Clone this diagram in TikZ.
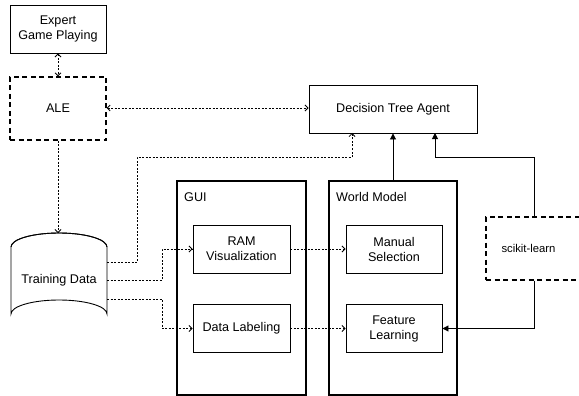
\documentclass[tikz,border=0pt]{standalone}
\usepackage{fontspec}
\setmainfont{Liberation Sans}
\usetikzlibrary{arrows.meta,calc}
\begin{document}
\begin{tikzpicture}[x=1pt,y=-1pt,
  box/.style={draw,line width=0.9pt,inner sep=0pt,align=center,font=\fontsize{12.6}{15}\selectfont},
  dbox/.style={box,line width=1.3pt,dash pattern=on 5pt off 3.5pt},
  cbox/.style={draw,line width=1.5pt,inner sep=0pt},
  dotc/.style={line width=0.8pt,dash pattern=on 2pt off 1.5pt,-{Straight Barb[length=3pt,width=6pt,line width=0.8pt]}},
  dotcb/.style={line width=0.8pt,dash pattern=on 2pt off 1.5pt,{Straight Barb[length=3pt,width=6pt,line width=0.8pt]}-{Straight Barb[length=3pt,width=6pt,line width=0.8pt]}},
  solc/.style={line width=0.9pt,-{Triangle[length=6pt,width=6pt]}},
  lbl/.style={anchor=base west,inner sep=0pt,font=\fontsize{12.6}{15}\selectfont}
]
\useasboundingbox (0,0) rectangle (579,396);

% containers
\node[cbox,minimum width=129pt,minimum height=214pt] (gui) at (241.5,288) {};
\node[cbox,minimum width=128pt,minimum height=214pt] (wm) at (393,288) {};
\node[lbl] (guil) at (184,201) {GUI};
\node[lbl] (wml) at (336,201) {World Model};

% boxes
\node[box,minimum width=96pt,minimum height=48pt] (exp) at (58,29) {Expert\\Game Playing};
\node[dbox,minimum width=96pt,minimum height=63pt] (ale) at (58,108.5) {ALE};
\node[box,minimum width=168pt,minimum height=48pt] (dta) at (393,109) {Decision Tree Agent};
\node[box,minimum width=97pt,minimum height=48pt] (ram) at (241.5,249) {RAM\\Visualization};
\node[box,minimum width=97pt,minimum height=48pt] (dl) at (241.5,328.5) {Data Labeling};
\node[box,minimum width=96pt,minimum height=48pt] (ms) at (394,249) {Manual\\Selection};
\node[box,minimum width=96pt,minimum height=48pt] (fl) at (394,328.5) {Feature\\Learning};
\node[dbox,minimum width=96pt,minimum height=63pt] (sk) at (534,248.5) {};
\node[inner sep=0pt,font=\fontsize{11.3}{13}\selectfont] (skl) at (528.5,248.5) {scikit-learn};

% cylinder
\draw[line width=0.9pt] (11,247) -- (11,314) arc[start angle=180,end angle=360,x radius=48,y radius=14] -- (107,247) arc[start angle=0,end angle=-180,x radius=48,y radius=14] -- cycle;
\draw[line width=0.9pt] (11,247) arc[start angle=180,end angle=360,x radius=48,y radius=14];
\node[inner sep=0pt,minimum width=96pt,minimum height=95pt,font=\fontsize{12.6}{15}\selectfont] (td) at (59,280.5) {Training Data};
\coordinate (tdtop) at (58,233);
\coordinate (tda) at (107,262);
\coordinate (tdb) at (107,280);
\coordinate (tdc) at (107,299);

% connectors
\draw[dotcb] (exp.south) -- (ale.north);
\draw[dotcb] (ale.east |- 0,108) -- (dta.west |- 0,108);
\draw[dotc] (ale.south) -- (tdtop);
\draw[dotc] (tda) -- (137,262) -- (137,157) -- (352,157) -- (352,133);
\draw[dotc] (tdb) -- (162,280) -- (162,249) -- (ram.west);
\draw[dotc] (tdc) -- (162,299) -- (162,328.5) -- (dl.west);
\draw[dotc] (ram.east) -- (ms.west);
\draw[dotc] (dl.east) -- (fl.west);
\draw[solc] (wm.north) -- (dta.south);
\draw[solc] (sk.north) -- (534,157) -- (435,157) -- (435,133);
\draw[solc] (sk.south) -- (534,328.5) -- (fl.east);
\end{tikzpicture}
\end{document}
